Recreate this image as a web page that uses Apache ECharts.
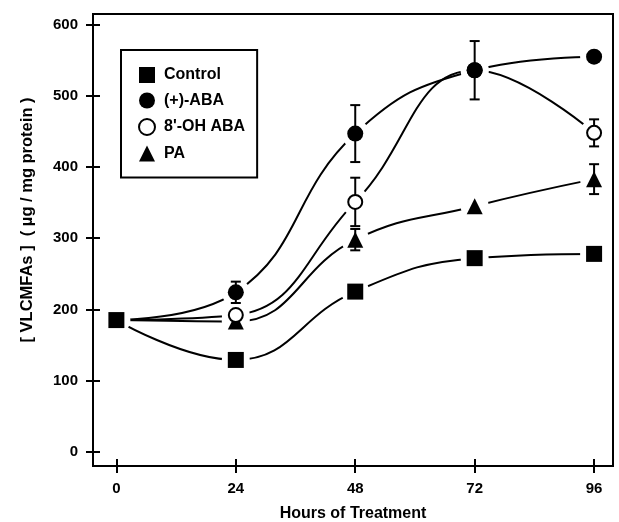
<!DOCTYPE html>
<html>
<head>
<meta charset="utf-8">
<script src="https://cdn.jsdelivr.net/npm/echarts@6/dist/echarts.min.js"></script>
<style>
html,body{margin:0;padding:0;background:#fff;}
#chart{width:619px;height:522px;}
</style>
</head>
<body>
<div id="chart"></div>
<script>
// ---- data ----
const hours = [0, 24, 48, 72, 96];
const xTicks = [0, 24, 48, 72, 96];
const yTicks = [0, 100, 200, 300, 400, 500, 600];
const seriesNames = ['Control', '(+)-ABA', "8'-OH ABA", 'PA'];
const control = [185, 129, 225, 272, 278];
const aba = [185, 224, 447, 536, 555];
const ohAba = [185, 192, 351, 536, 448];
const pa = [185, 183, 298, 345, 383];
// +/- error (null = no visible bar)
const abaErr = [null, 15, 40, 41, null];
const ohAbaErr = [null, null, 34, null, 19];
const paErr = [null, null, 15, null, 21];

const FONT = '"Liberation Sans", Arial, Helvetica, sans-serif';

function pairs(vals, from) {
  const out = [];
  for (let i = from; i < hours.length; i++) out.push([hours[i], vals[i]]);
  return out;
}
function errData(vals, errs) {
  const out = [];
  for (let i = 0; i < hours.length; i++) {
    if (errs[i] != null) out.push([hours[i], vals[i] - errs[i], vals[i] + errs[i]]);
  }
  return out;
}

const lineBase = {
  type: 'line', smooth: 0.45, showSymbol: false, silent: true,
  lineStyle: { color: '#000', width: 2 }, z: 2, xAxisIndex: 0, yAxisIndex: 0
};
const haloBase = {
  type: 'scatter', symbol: 'circle', symbolSize: 28, silent: true,
  itemStyle: { color: '#fff', opacity: 1 }, z: 3, xAxisIndex: 0, yAxisIndex: 0
};

function errSeries(vals, errs) {
  return {
    type: 'custom', silent: true, z: 4, xAxisIndex: 0, yAxisIndex: 0,
    data: errData(vals, errs),
    renderItem: function (params, api) {
      const x = api.value(0);
      const lo = api.coord([x, api.value(1)]);
      const hi = api.coord([x, api.value(2)]);
      const cw = 5;
      const style = { stroke: '#000', lineWidth: 2 };
      return {
        type: 'group',
        children: [
          { type: 'line', shape: { x1: lo[0], y1: lo[1], x2: hi[0], y2: hi[1] }, style: style },
          { type: 'line', shape: { x1: lo[0] - cw, y1: lo[1], x2: lo[0] + cw, y2: lo[1] }, style: style },
          { type: 'line', shape: { x1: hi[0] - cw, y1: hi[1], x2: hi[0] + cw, y2: hi[1] }, style: style }
        ]
      };
    }
  };
}

const chart = echarts.init(document.getElementById('chart'), null, { renderer: 'canvas' });

const axisCommonX = {
  type: 'value', min: -4.7, max: 99.8, position: 'bottom',
  splitLine: { show: false },
  axisLine: { show: true, onZero: false, lineStyle: { color: '#000', width: 2 } }
};
const axisCommonY = {
  type: 'value', min: -20, max: 615, position: 'left',
  splitLine: { show: false },
  axisLine: { show: true, onZero: false, lineStyle: { color: '#000', width: 2 } }
};

const option = {
  backgroundColor: '#fff',
  animation: false,
  textStyle: { fontFamily: FONT },
  grid: {
    left: 93, right: 6, top: 14, bottom: 56,
    containLabel: false, outerBoundsMode: 'none',
    show: true, borderColor: '#000', borderWidth: 2, backgroundColor: 'transparent'
  },
  legend: {
    data: seriesNames,
    orient: 'vertical',
    left: 121, top: 50,
    padding: [17, 12, 16, 17],
    itemWidth: 16, itemHeight: 16, itemGap: 9.5,
    borderColor: '#000', borderWidth: 2, backgroundColor: '#fff',
    textStyle: { fontFamily: FONT, fontSize: 16, fontWeight: 'bold', color: '#000', padding: [0, 0, 0, 4] },
    selectedMode: false
  },
  xAxis: [
    Object.assign({}, axisCommonX, {
      name: 'Hours of Treatment', nameLocation: 'middle', nameGap: 40,
      nameTextStyle: { fontFamily: FONT, fontSize: 16, fontWeight: 'bold', color: '#000' },
      axisTick: { show: true, inside: true, length: 7, customValues: xTicks, lineStyle: { color: '#000', width: 2 } },
      axisLabel: { show: true, customValues: xTicks, margin: 15, fontFamily: FONT, fontSize: 15, fontWeight: 'bold', color: '#000' }
    }),
    Object.assign({}, axisCommonX, {
      axisTick: { show: true, inside: false, length: 7, customValues: xTicks, lineStyle: { color: '#000', width: 2 } },
      axisLabel: { show: false }
    })
  ],
  yAxis: [
    Object.assign({}, axisCommonY, {
      axisTick: { show: true, inside: true, length: 7, customValues: yTicks, lineStyle: { color: '#000', width: 2 } },
      axisLabel: { show: true, customValues: yTicks, margin: 15, fontFamily: FONT, fontSize: 15, fontWeight: 'bold', color: '#000' }
    }),
    Object.assign({}, axisCommonY, {
      axisTick: { show: true, inside: false, length: 7, customValues: yTicks, lineStyle: { color: '#000', width: 2 } },
      axisLabel: { show: false }
    })
  ],
  graphic: [{
    type: 'text', x: 27, y: 220, rotation: Math.PI / 2,
    style: {
      text: '[ VLCMFAs ]  ( \u00b5g / mg protein )',
      fontFamily: FONT, fontSize: 16.5, fontWeight: 'bold', fill: '#000',
      align: 'center', verticalAlign: 'middle'
    }
  }],
  series: [
    Object.assign({}, lineBase, { name: 'Control curve', data: pairs(control, 0) }),
    Object.assign({}, lineBase, { name: '(+)-ABA curve', data: pairs(aba, 0) }),
    Object.assign({}, lineBase, { name: "8'-OH ABA curve", data: pairs(ohAba, 0) }),
    Object.assign({}, lineBase, { name: 'PA curve', data: pairs(pa, 0) }),
    Object.assign({}, haloBase, { name: 'halo1', data: pairs(control, 0) }),
    Object.assign({}, haloBase, { name: 'halo2', data: pairs(aba, 1) }),
    Object.assign({}, haloBase, { name: 'halo3', data: pairs(ohAba, 1) }),
    Object.assign({}, haloBase, { name: 'halo4', data: pairs(pa, 1) }),
    errSeries(aba, abaErr),
    errSeries(ohAba, ohAbaErr),
    errSeries(pa, paErr),
    {
      name: 'Control', type: 'scatter', symbol: 'rect', symbolSize: 16, z: 5,
      itemStyle: { color: '#000', opacity: 1 }, data: pairs(control, 0)
    },
    {
      name: '(+)-ABA', type: 'scatter', symbol: 'circle', symbolSize: 16, z: 7,
      itemStyle: { color: '#000', opacity: 1 }, data: pairs(aba, 1)
    },
    {
      name: "8'-OH ABA", type: 'scatter', symbol: 'circle', symbolSize: 14, z: 6,
      itemStyle: { color: '#fff', borderColor: '#000', borderWidth: 2, opacity: 1 }, data: pairs(ohAba, 1)
    },
    {
      name: 'PA', type: 'scatter', symbol: 'triangle', symbolSize: 16, z: 5,
      itemStyle: { color: '#000', opacity: 1 }, data: pairs(pa, 1)
    }
  ]
};
chart.setOption(option);
</script>
</body>
</html>
